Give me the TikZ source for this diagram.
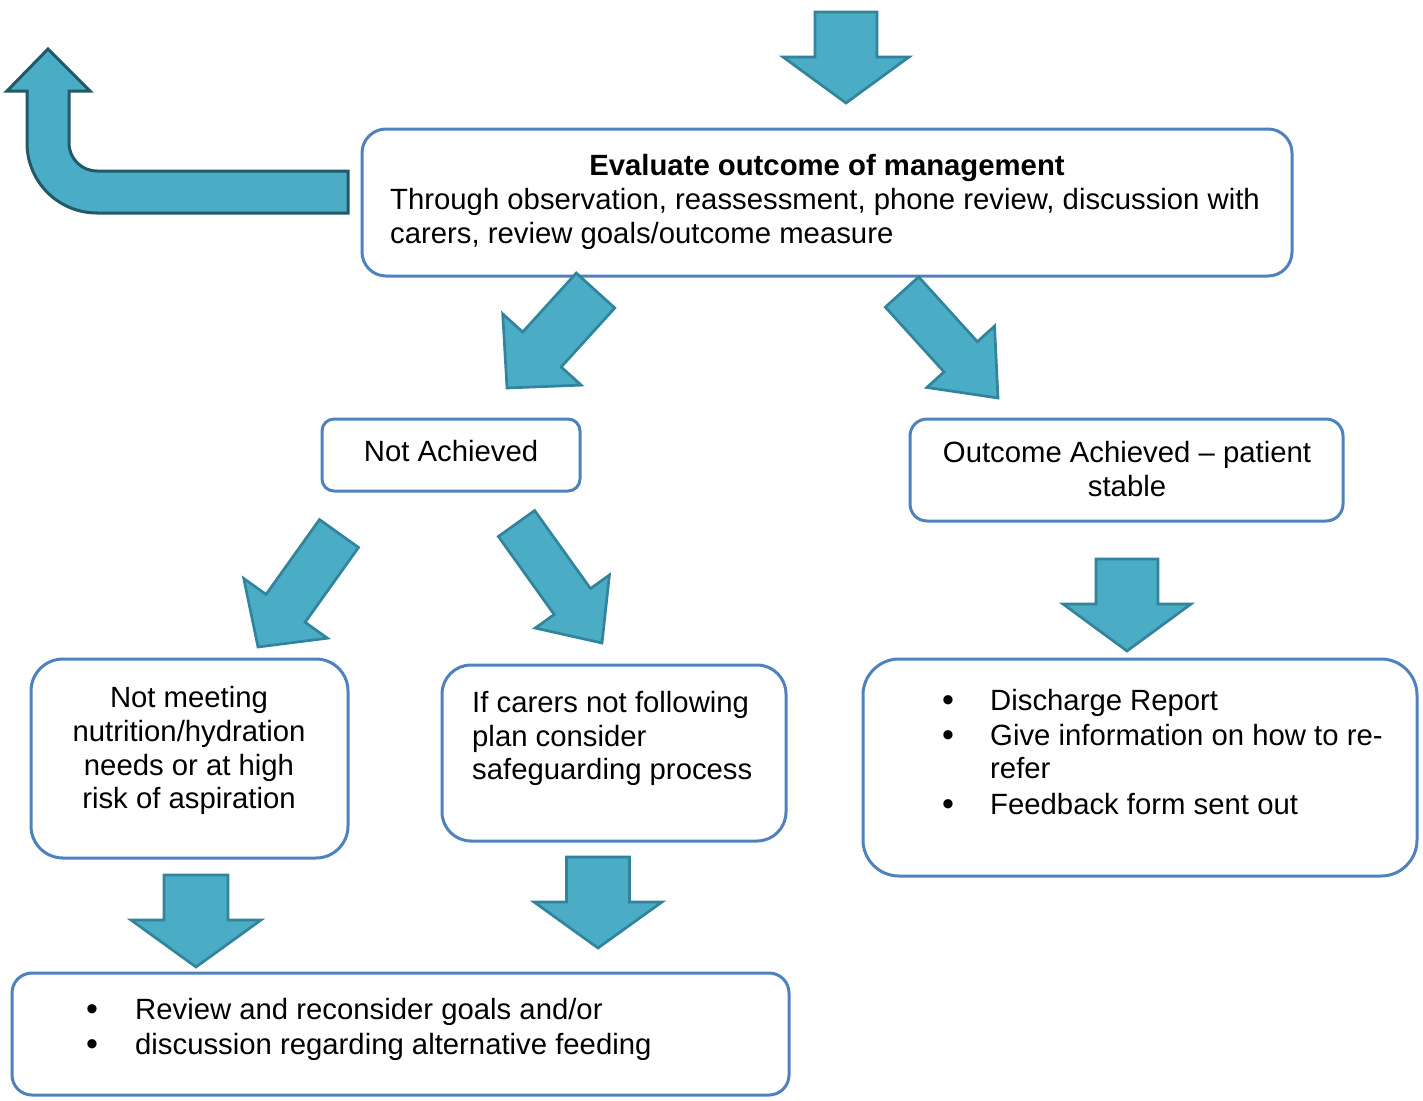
\documentclass[tikz,border=0pt]{standalone}
\usepackage{fontspec}
\setmainfont{Liberation Sans}
\usetikzlibrary{calc}

\definecolor{boxblue}{HTML}{4F81BD}
\definecolor{arrowfill}{HTML}{4BACC6}
\definecolor{arrowline}{HTML}{31849B}
\definecolor{bentline}{HTML}{215968}

\newcommand\bodyfont{\fontsize{29.3pt}{33.7pt}\selectfont}
\newcommand\bulletfont{\fontsize{34pt}{34pt}\selectfont}

% block arrow: start, tip, shaft half width, head half width, head length
\newcommand\blockarrow[5]{%
  \path ($(#2)!#5!(#1)$) coordinate (ba-h);
  \draw[blockarrowstyle]
    ($(#1)!#3!90:(#2)$) -- ($(ba-h)!#3!90:(#2)$) -- ($(ba-h)!#4!90:(#2)$)
    -- (#2)
    -- ($(ba-h)!#4!-90:(#2)$) -- ($(ba-h)!#3!-90:(#2)$) -- ($(#1)!#3!-90:(#2)$)
    -- cycle;
}

\tikzset{
  panel/.style={draw=boxblue, line width=3pt, rectangle, inner sep=0pt},
  txt/.style={inner sep=0pt, font=\bodyfont, text=black},
  dot/.style={inner sep=0pt, font=\bulletfont, text=black, anchor=base},
  blockarrowstyle/.style={fill=arrowfill, draw=arrowline, line width=2.7pt, line join=miter},
}

\begin{document}
\begin{tikzpicture}[x=1pt, y=-1pt]
\useasboundingbox (0,0) rectangle (1423,1100);

% boxes
\node[panel, rounded corners=24pt, minimum width=930pt, minimum height=147pt] (eval) at (827,202.5) {};
\node[panel, rounded corners=12pt, minimum width=258pt, minimum height=72pt] (notach) at (451,455) {};
\node[panel, rounded corners=17pt, minimum width=433pt, minimum height=102pt] (outach) at (1126.5,470) {};
\node[panel, rounded corners=32pt, minimum width=317pt, minimum height=199pt] (notmeet) at (189.5,758.5) {};
\node[panel, rounded corners=29pt, minimum width=344pt, minimum height=176pt] (carers) at (614,753) {};
\node[panel, rounded corners=36pt, minimum width=554pt, minimum height=217pt] (discharge) at (1140,767.5) {};
\node[panel, rounded corners=20pt, minimum width=777pt, minimum height=122pt] (review) at (400.5,1034) {};

% box texts
\node[txt, anchor=base] (evalA) at (827,175) {\bfseries Evaluate outcome of management};
\node[txt, anchor=base west] (evalB) at (390,209) {Through observation, reassessment, phone review, discussion with};
\node[txt, anchor=base west] (evalC) at (390,243) {carers, review goals/outcome measure};

\node[txt, anchor=base] (notachA) at (451,461) {Not Achieved};

\node[txt, anchor=base] (outachA) at (1127,462) {Outcome Achieved – patient};
\node[txt, anchor=base] (outachB) at (1127,496) {stable};

\node[txt, anchor=base] (notmeetA) at (189,707) {Not meeting};
\node[txt, anchor=base] (notmeetB) at (189,741) {nutrition/hydration};
\node[txt, anchor=base] (notmeetC) at (189,775) {needs or at high};
\node[txt, anchor=base] (notmeetD) at (189,808) {risk of aspiration};

\node[txt, anchor=base west] (carersA) at (472,712) {If carers not following};
\node[txt, anchor=base west] (carersB) at (472,746) {plan consider};
\node[txt, anchor=base west] (carersC) at (472,779) {safeguarding process};

\node[dot] (dischBa) at (948,711.5) {\textbullet};
\node[txt, anchor=base west] (dischA) at (990,710) {Discharge Report};
\node[dot] (dischBb) at (948,746.5) {\textbullet};
\node[txt, anchor=base west] (dischB) at (990,745) {Give information on how to re-};
\node[txt, anchor=base west] (dischC) at (990,778) {refer};
\node[dot] (dischBc) at (948,815.5) {\textbullet};
\node[txt, anchor=base west] (dischD) at (990,814) {Feedback form sent out};

\node[dot] (reviewBa) at (92,1020.5) {\textbullet};
\node[txt, anchor=base west] (reviewA) at (135,1019) {Review and reconsider goals and/or};
\node[dot] (reviewBb) at (92,1055.5) {\textbullet};
\node[txt, anchor=base west] (reviewB) at (135,1054) {discussion regarding alternative feeding};

% arrow end points
\coordinate (inS) at (846,12);      \coordinate (inT) at (846,103);
\coordinate (naS) at (595.5,290.5); \coordinate (naT) at (507,388);
\coordinate (oaS) at (902,292);     \coordinate (oaT) at (998,398);
\coordinate (nmS) at (339,533.5);   \coordinate (nmT) at (258,647);
\coordinate (caS) at (516.5,523.5); \coordinate (caT) at (602,643);
\coordinate (dsS) at (1127,559);    \coordinate (dsT) at (1127,651);
\coordinate (r1S) at (196,875);     \coordinate (r1T) at (196,967);
\coordinate (r2S) at (598,857);     \coordinate (r2T) at (598,948);

% straight block arrows
\blockarrow{inS}{inT}{31pt}{63pt}{46pt}
\blockarrow{naS}{naT}{26pt}{53pt}{52pt}
\blockarrow{oaS}{oaT}{22.5pt}{45.7pt}{55.6pt}
\blockarrow{nmS}{nmT}{24pt}{51.4pt}{47.5pt}
\blockarrow{caS}{caT}{22.3pt}{45.6pt}{51pt}
\blockarrow{dsS}{dsT}{31pt}{64pt}{47pt}
\blockarrow{r1S}{r1T}{32pt}{65pt}{47pt}
\blockarrow{r2S}{r2T}{31.5pt}{64pt}{46pt}

% bent return arrow leaving the evaluation box
\draw[fill=arrowfill, draw=bentline, line width=3pt, line join=miter]
  (348,171) -- (97,171)
  .. controls (81.5,171) and (69,158.5) .. (69,143)
  -- (69,91) -- (90,91) -- (48,49) -- (7,91) -- (27,91) -- (27,143)
  .. controls (27,181.7) and (58.3,213) .. (97,213)
  -- (348,213) -- cycle;
\end{tikzpicture}
\end{document}
